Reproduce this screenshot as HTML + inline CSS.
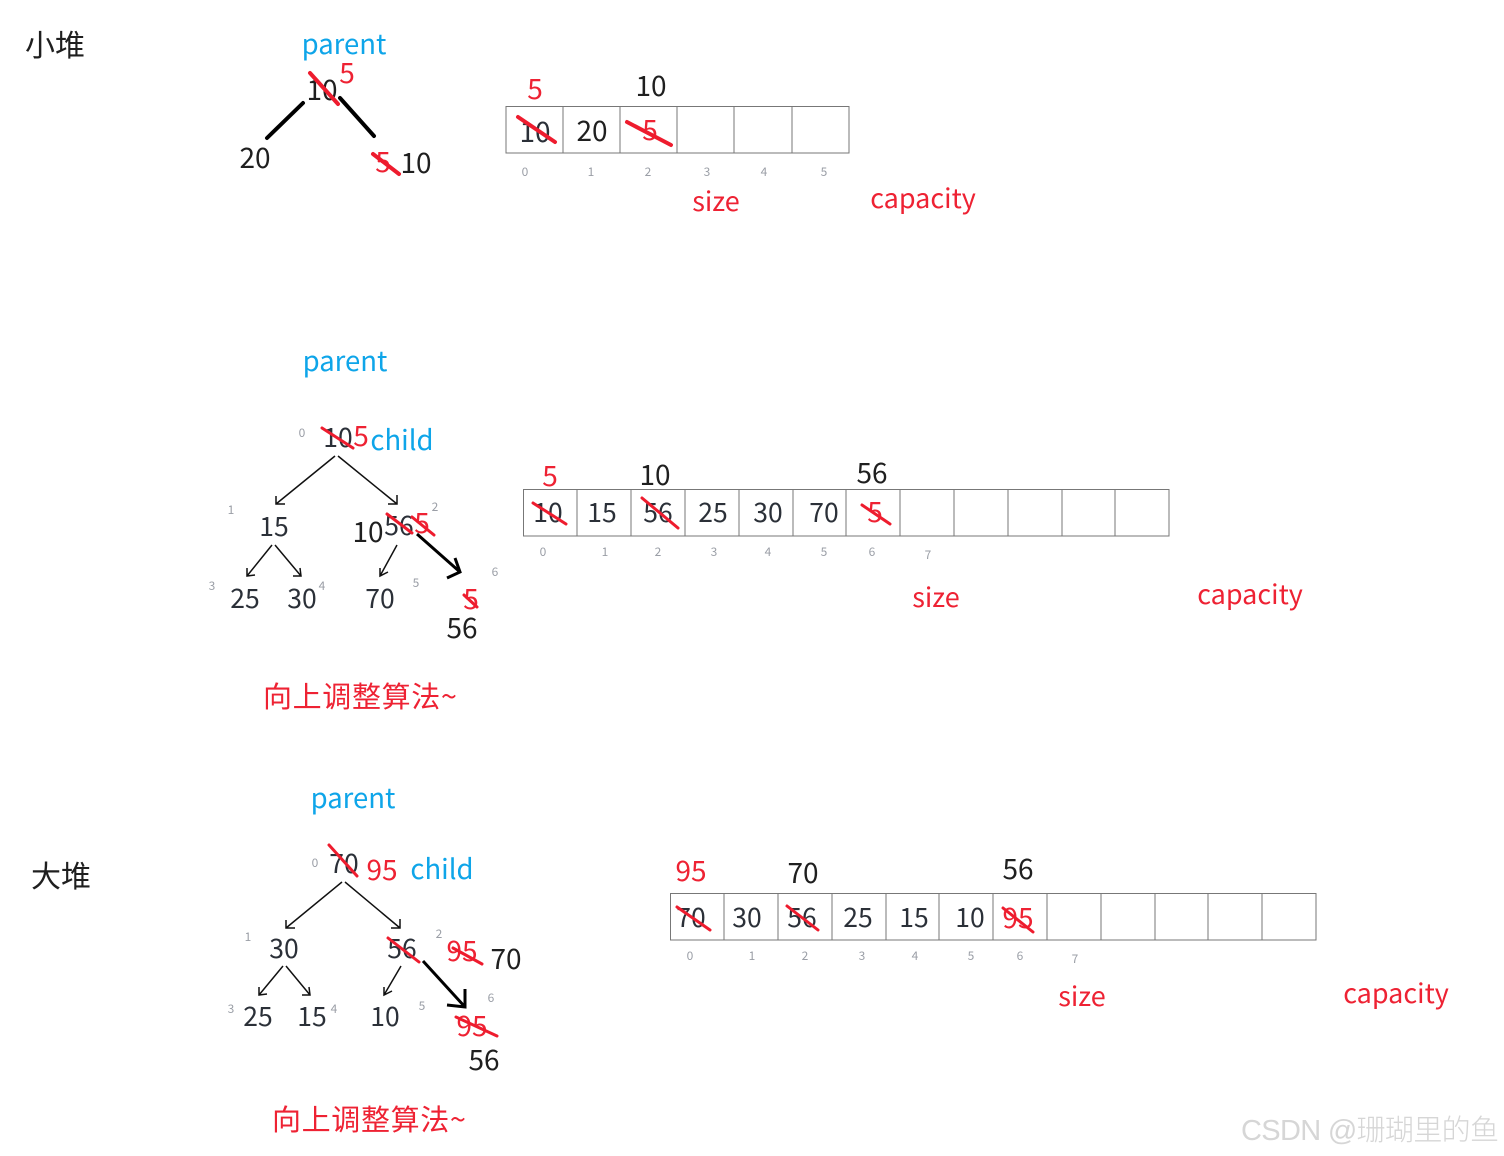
<!DOCTYPE html>
<html><head><meta charset="utf-8"><style>
html,body{margin:0;padding:0;background:#fff}
svg{display:block}
text{font-family:"Noto Sans CJK SC","Liberation Sans",sans-serif;text-anchor:middle;font-size:28px;fill:#1f1f1f}
.r{fill:#ee2233}.b{fill:#0ea5e9;font-size:27.500px}.g{fill:#9a9ea6;font-size:12px}.d{fill:#2b3038}
.p{font-size:27px}
.n{font-size:26.500px;fill:#2b3038}
.s{stroke:#ee1c2e;stroke-width:3;stroke-linecap:round;fill:none}
.t{stroke-width:4}
.k{stroke:#000;stroke-width:4;stroke-linecap:round;fill:none}
.a{stroke:#111;stroke-width:1.500;fill:none}
.h{stroke:#000;stroke-width:3;fill:none}
.c{fill:none;stroke:#777;stroke-width:1}
</style></head><body>
<svg xmlns="http://www.w3.org/2000/svg" width="1504" height="1156" viewBox="0 0 1504 1156">
<rect width="1504" height="1156" fill="#fff"/>

<text x="55" y="56" style="font-size:30px">小堆</text>
<text x="344" y="54" class="b">parent</text>
<text x="322" y="100">10</text>
<text x="347" y="83" class="r">5</text>
<text x="255" y="168">20</text>
<text x="383" y="172" class="r">5</text>
<text x="416" y="173">10</text>
<path class="k" d="M303 103L267 138M340 98L374 136"/>
<path class="s t" d="M310 73L338 104M373 154L399 174"/>

<text x="535" y="99" class="r">5</text>
<text x="651" y="96">10</text>
<path class="c" d="M506 106.500H849V153H506ZM563 106V153M620 106V153M677 106V153M734 106V153M792 106V153"/>
<text x="535" y="142" class="d">10</text>
<text x="592" y="141">20</text>
<text x="650" y="140" class="r">5</text>
<path class="s t" d="M518 117L555 142M627 122L671 145"/>
<text x="525" y="176" class="g">0</text><text x="591" y="176" class="g">1</text><text x="648" y="176" class="g">2</text><text x="707" y="176" class="g">3</text><text x="764" y="176" class="g">4</text><text x="824" y="176" class="g">5</text>
<text x="716" y="211" class="r p">size</text>
<text x="923" y="208" class="r p">capacity</text>

<text x="345" y="371" class="b">parent</text>
<text x="302" y="437" class="g">0</text>
<text x="338" y="447" class="n">10</text>
<text x="361" y="446" class="r">5</text>
<text x="402" y="450" class="b">child</text>
<path class="s" d="M322 428L353 448"/>
<path class="a" d="M335 456L276 504M276 496L276 504L285 504M338 456L397 504M388 504L397 504L397 495"/>
<text x="274" y="536" class="n">15</text>
<text x="231" y="514" class="g">1</text>
<text x="435" y="511" class="g">2</text>
<text x="368" y="542">10</text>
<text x="399" y="535" class="n">56</text>
<text x="422" y="533" class="r">5</text>
<path class="s" d="M387 514L412 533M412 517L434 535"/>
<path class="h" d="M417 534L460 572M455 558L460 572L447 578"/>
<path class="a" d="M272 545L247 576M247 568L247 576L255 575M275 545L301 576M293 576L301 576L300 568M397 545L380 576M380 568L380 576L388 572"/>
<text x="245" y="608" class="n">25</text>
<text x="302" y="608" class="n">30</text>
<text x="380" y="608" class="n">70</text>
<text x="212" y="590" class="g">3</text><text x="322" y="590" class="g">4</text><text x="416" y="587" class="g">5</text><text x="495" y="576" class="g">6</text>
<text x="471" y="609" class="r">5</text>
<path class="s" d="M464 595L477 607"/>
<text x="462" y="638">56</text>
<text x="360" y="707" class="r" style="font-size:29px" textLength="194">向上调整算法~</text>

<text x="550" y="486" class="r">5</text>
<text x="655" y="485">10</text>
<text x="872" y="483">56</text>
<path class="c" d="M523.500 489.500H1169V536H523.500ZM577 489V536M631 489V536M685 489V536M739 489V536M793 489V536M846 489V536M900 489V536M954 489V536M1008 489V536M1062 489V536M1115 489V536"/>
<text x="548" y="522" class="n">10</text><text x="602" y="522" class="n">15</text><text x="658" y="522" class="n">56</text><text x="713" y="522" class="n">25</text><text x="768" y="522" class="n">30</text><text x="824" y="522" class="n">70</text>
<text x="875" y="522" class="r">5</text>
<path class="s" d="M533 503L566 524M642 498L678 528M862 505L890 524"/>
<text x="543" y="556" class="g">0</text><text x="605" y="556" class="g">1</text><text x="658" y="556" class="g">2</text><text x="714" y="556" class="g">3</text><text x="768" y="556" class="g">4</text><text x="824" y="556" class="g">5</text><text x="872" y="556" class="g">6</text><text x="928" y="559" class="g">7</text>
<text x="936" y="607" class="r p">size</text>
<text x="1250" y="604" class="r p">capacity</text>

<text x="61" y="887" style="font-size:30px">大堆</text>
<text x="353" y="808" class="b">parent</text>
<text x="315" y="867" class="g">0</text>
<text x="344" y="873" class="n">70</text>
<text x="382" y="880" class="r">95</text>
<text x="442" y="879" class="b">child</text>
<path class="s" d="M329 845L357 876"/>
<path class="a" d="M342 882L286 928M286 920L286 928L295 928M345 882L400 928M391 928L400 928L400 919"/>
<text x="284" y="958" class="n">30</text>
<text x="402" y="958" class="n">56</text>
<text x="248" y="941" class="g">1</text><text x="439" y="938" class="g">2</text>
<text x="462" y="961" class="r">95</text>
<text x="506" y="969">70</text>
<path class="s" d="M388 938L419 962M453 948L482 964"/>
<path class="h" d="M423 961L465 1007M465 989L465 1007L447 1005"/>
<path class="a" d="M283 966L259 995M259 987L259 995L267 994M286 966L310 995M302 995L310 995L309 987M401 966L384 995M384 987L384 995L392 991"/>
<text x="258" y="1026" class="n">25</text><text x="312" y="1026" class="n">15</text><text x="385" y="1026" class="n">10</text>
<text x="231" y="1013" class="g">3</text><text x="334" y="1013" class="g">4</text><text x="422" y="1010" class="g">5</text><text x="491" y="1002" class="g">6</text>
<text x="472" y="1036" class="r">95</text>
<path class="s" d="M456 1017L497 1036"/>
<text x="484" y="1070">56</text>
<text x="369" y="1130" class="r" style="font-size:29px" textLength="194">向上调整算法~</text>

<text x="691" y="881" class="r">95</text>
<text x="803" y="883">70</text>
<text x="1018" y="879">56</text>
<path class="c" d="M670.500 893.500H1316V940H670.500ZM724 893V940M778 893V940M832 893V940M886 893V940M939 893V940M993 893V940M1047 893V940M1101 893V940M1155 893V940M1208 893V940M1262 893V940"/>
<text x="691" y="927" class="n">70</text><text x="747" y="927" class="n">30</text><text x="802" y="927" class="n">56</text><text x="858" y="927" class="n">25</text><text x="914" y="927" class="n">15</text><text x="970" y="927" class="n">10</text>
<text x="1018" y="928" class="r">95</text>
<path class="s" d="M677 907L710 930M787 906L818 930M1003 908L1033 932"/>
<text x="690" y="960" class="g">0</text><text x="752" y="960" class="g">1</text><text x="805" y="960" class="g">2</text><text x="862" y="960" class="g">3</text><text x="915" y="960" class="g">4</text><text x="971" y="960" class="g">5</text><text x="1020" y="960" class="g">6</text><text x="1075" y="963" class="g">7</text>
<text x="1082" y="1006" class="r p">size</text>
<text x="1396" y="1003" class="r p">capacity</text>

<text x="1370" y="1140" textLength="258" style="font-size:29px;fill:#d6d6d6;font-family:'Liberation Sans','Noto Sans CJK SC',sans-serif;font-weight:300">CSDN @珊瑚里的鱼</text>
</svg>
</body></html>
